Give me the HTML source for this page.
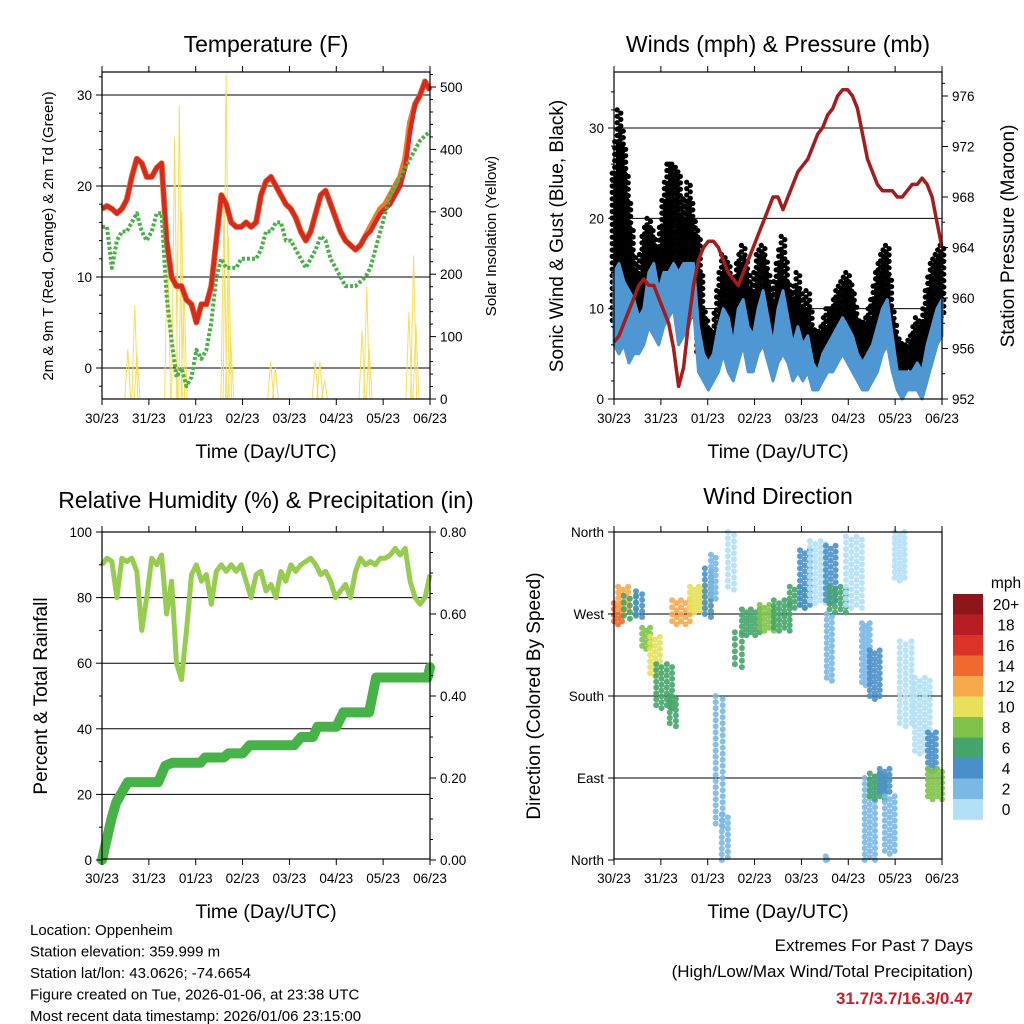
<!DOCTYPE html>
<html><head><meta charset="utf-8"><style>
body{margin:0;background:#fff}
svg{display:block;font-family:"Liberation Sans",sans-serif}
</style></head><body>
<svg id="fig" width="1024" height="1024" viewBox="0 0 1024 1024" xmlns="http://www.w3.org/2000/svg">
<rect width="1024" height="1024" fill="#fff"/>
<g id="layer"></g>
</svg>
<script>
const xTicks=["30/23","31/23","01/23","02/23","03/23","04/23","05/23","06/23"];
const tempRed=[17.5,17.8,17.5,17,17.5,18.5,21,23,22.5,21,21,22,22.5,14,10,9,9,7.5,7,5,7,7,9,14,19,18,16,15.5,15.5,16,15.5,16,19,20.5,21,20,19,18,17.5,16.5,15,14,15,17,19,19.5,18,16.5,15,14,13.5,13,13.5,14.5,15,16,17,17.5,18,19,20,22,26,29,30,31.5,30.5];
const tempOrange=[17.5,17.8,17.5,17,17.5,18.5,21,23,22.5,21,21,22,22.5,14,10,9,9,7.5,7,5,7,7,9,14,19,18,16,15.5,15.5,16,15.5,16,19,20.5,21,20,19,18,17.5,16.5,15,14,15,17,19,19.5,18,16.5,15,14,13.5,13,13.5,14.5,15.5,16.5,17.5,18,19,20,21,23,27,29,30,31.5,30.5];
const dewGreen=[15.5,15.5,11,14,15,15,16,17,15,14,15,17,17,8,3,-1,0,-2,-1,2,1,2,5,10,12,11,11,11,12,12,12,12,13,15,15,16,16,14,14,13,12,11,12,13,14.5,14,12,11,10,9,9,9,9.5,10,11,13,15,17,19,20,21,22,23,24,25,25.5,26];
const solarT=[0.55,0.7,0.75,1.4,1.55,1.65,1.7,1.75,2.6,2.65,2.7,2.75,3.6,3.7,4.55,4.65,4.75,5.55,5.65,5.7,6.55,6.65,6.7];
const solarV=[80,150,70,260,420,470,300,180,300,520,260,90,60,50,60,60,30,110,180,80,140,230,120];
const rh=[90,92,91,80,92,91,92,88,70,80,92,90,93,75,85,60,55,70,87,90,85,87,78,88,90,88,90,88,90,85,80,87,88,82,84,80,88,85,90,88,90,91,92,90,87,88,85,80,82,84,80,88,92,90,91,90,92,92,93,95,93,95,85,80,78,80,87];
const precipT=[0,0.1,0.2,0.3,0.45,0.55,0.9,1.2,1.35,1.5,2.1,2.2,2.6,2.7,3.0,3.15,4.1,4.25,4.5,4.6,5.0,5.15,5.7,5.85,6.95,7.0];
const precipV=[0,0.05,0.1,0.14,0.17,0.19,0.19,0.19,0.23,0.237,0.237,0.25,0.25,0.26,0.26,0.28,0.28,0.3,0.3,0.325,0.325,0.36,0.36,0.445,0.445,0.47];
const pressure=[956.5,957,958,959,960,961,961.5,961,961,960,959,958,956,953,954.5,958,961,963,964,964.5,964.5,964,963,962,961.5,961,962,963,964,965,966,967,968,968,967,968,969,970,970.5,971,972,973,973.5,974.5,975,976,976.5,976.5,976,975,973,971,970,969,968.5,968.5,968.5,968,968,968.5,969,969,969.5,969,968,966,964];
const windLo=[6,5,6,4,5,5,6,8,7,6,8,9,10,6,7,8,10,3,2,1,2,3,5,3,2,4,6,3,3,5,6,4,2,4,5,4,2,3,2,3,1,1,2,3,3,4,5,4,3,2,1,1,2,3,5,6,3,1,0,1,1,1,0,2,4,6,7];
const windHi=[14,15,13,12,11,9,10,14,15,12,14,14,15,14,15,15,15,8,5,4,5,8,10,9,6,10,11,8,7,10,12,9,6,10,12,9,6,8,6,7,4,3,5,6,7,8,9,8,7,5,4,5,6,8,10,11,7,3,3,3,3,4,3,6,8,10,11];
const gustHi=[25,32,28,22,16,14,18,20,18,16,22,26,26,25,20,24,20,18,10,8,7,12,16,15,12,15,17,14,12,16,17,14,11,15,18,13,11,14,10,12,8,7,8,10,10,12,13,14,12,9,8,9,11,14,16,17,10,7,6,6,7,9,8,12,15,16,17];
const dirT0=[0,0.09,0.21,0.47,0.6,0.77,0.9,1.19,1.24,1.62,1.94,2.07,2.17,2.3,2.43,2.58,2.73,3.11,3.41,3.75,3.97,4.18,4.52,4.6,4.54,4.95,5.29,5.35,5.46,5.46,5.67,5.78,5.99,6.1,6.42,6.7,6.7,4.52];
const dirT1=[0.17,0.3,0.47,0.6,0.77,0.98,1.24,1.32,1.62,2.0,2.07,2.17,2.32,2.43,2.56,2.73,3.11,3.41,3.75,4.07,4.18,4.52,4.73,4.95,4.65,5.29,5.46,5.57,5.67,5.78,5.88,5.99,6.2,6.35,6.74,6.87,7.0,4.55];
const dirLo=[262,275,268,270,235,205,170,150,262,275,270,290,40,0,300,215,250,255,255,280,280,285,285,275,200,280,195,0,180,70,75,10,310,150,120,100,70,0];
const dirHi=[282,300,290,295,255,245,215,180,285,300,320,335,180,50,360,250,275,280,285,300,340,350,345,300,270,355,260,90,230,95,100,70,360,240,200,140,100,4];
const dirSpd=[15,12,7,4,9,10,7,6,12,11,4,3,3,3,1,6,7,9,7,6,4,1,4,7,3,1,2,2,4,7,4,2,0,1,1,4,8,2];
const cbLabels=["20+","18","16","14","12","10","8","6","4","2","0"];
const cbColors=["#8e1519","#b81d24","#dc3327","#f06a2d","#f7a84a","#e6e05a","#80c34a","#45a56a","#4a90c8","#7ab8e6","#b3e0f7"];

const NS="http://www.w3.org/2000/svg";
const L=document.getElementById('layer');
function mk(tag,at,parent){const e=document.createElementNS(NS,tag);for(const k in at)e.setAttribute(k,at[k]);(parent||L).appendChild(e);return e;}
function txt(s,x,y,size,anchor,extra){const e=mk('text',Object.assign({x:x,y:y,'font-size':size,'text-anchor':anchor||'middle',fill:'#000'},extra||{}));e.textContent=s;return e;}
const W=328,H=327;
function panel(px,py,name){
  const g=mk('g',{});
  
  
  return g;
}
function xs(px,t){return px+t*W/7;}
function lin(v,v0,v1,y0,y1){return y0+(v-v0)*(y1-y0)/(v1-v0);}
function frame(px,py,g,name){
  const r=mk('rect',{x:px,y:py,width:W,height:H,fill:'none',stroke:'#000','stroke-width':1.2},g);
  
  
  for(let i=0;i<8;i++){const x=px+i*W/7;
    mk('line',{x1:x,y1:py+H,x2:x,y2:py+H+6,stroke:'#000'},g);
    mk('line',{x1:x,y1:py,x2:x,y2:py-6,stroke:'#000'},g);
    const t=txt(xTicks[i],x,py+H+24,13.5,'middle');
    
    
  }
  const xt=txt('Time (Day/UTC)',px+W/2,py+H+59,19.5);
  
  
}
function grid(px,g,ys){ys.forEach(y=>mk('line',{x1:px,y1:y,x2:px+W,y2:y,stroke:'#000','stroke-width':1},g));}
function yticksL(px,g,vals,fn,fmt,minor){vals.forEach(v=>{const y=fn(v);mk('line',{x1:px,y1:y,x2:px-6,y2:y,stroke:'#000'},g);const t=txt(fmt(v),px-10,y+5,13.5,'end');});
  (minor||[]).forEach(v=>{const y=fn(v);mk('line',{x1:px,y1:y,x2:px-3,y2:y,stroke:'#000'},g);});}
function yticksR(px,g,vals,fn,fmt,minor){vals.forEach(v=>{const y=fn(v);mk('line',{x1:px+W,y1:y,x2:px+W+6,y2:y,stroke:'#000'},g);const t=txt(fmt(v),px+W+10,y+5,13.5,'start');});
  (minor||[]).forEach(v=>{const y=fn(v);mk('line',{x1:px+W,y1:y,x2:px+W+3,y2:y,stroke:'#000'},g);});}
function poly(arr,xf,yf){return arr.map((v,i)=>xf(i).toFixed(1)+','+yf(v).toFixed(1)).join(' ');}
function title(s,x,y,g){const t=txt(s,x,y,23,'middle');}
function ytitle(s,x,y,size,name){const t=txt(s,0,0,size,'middle',{transform:`translate(${x},${y}) rotate(-90)`});}
const N=tempRed.length;
const ti=i=>i*7/(N-1);

// Panel 1: Temperature
(function(){const px=102,py=72,g=panel(px,py,'temperature-panel');
 const yT=v=>lin(v,0,30,368,95), yS=v=>lin(v,0,500,399,87);
 grid(px,g,[0,10,20,30].map(yT));
 solarT.forEach((t,i)=>{const x=xs(px,t);const p=mk('polyline',{points:`${x-3},${yS(0)} ${x},${yS(solarV[i])} ${x+3},${yS(0)}`,fill:'none',stroke:'#f6de5a','stroke-width':1},g);
  });
 const xf=i=>xs(px,ti(i));
 let p=mk('polyline',{points:poly(tempOrange,xf,yT),fill:'none',stroke:'#f07a2c','stroke-width':6,'stroke-linejoin':'round'},g);
 
 p=mk('polyline',{points:poly(tempRed,xf,yT),fill:'none',stroke:'#d42a22','stroke-width':4.5,'stroke-linejoin':'round'},g);
 
 p=mk('polyline',{points:poly(dewGreen,xf,yT),fill:'none',stroke:'#4cb04a','stroke-width':4,'stroke-dasharray':'3 2','stroke-linejoin':'round'},g);
 
 frame(px,py,g,'temperature');
 yticksL(px,g,[0,10,20,30],yT,v=>v,[-2,2,4,6,8,12,14,16,18,22,24,26,28,32]);
 yticksR(px,g,[0,100,200,300,400,500],yS,v=>v,[20,40,60,80,120,140,160,180,220,240,260,280,320,340,360,380,420,440,460,480,520]);
 title('Temperature (F)',266,52);
 ytitle('2m & 9m T (Red, Orange) & 2m Td (Green)',53,236,15,'y-axis-title');
 ytitle('Solar Insolation (Yellow)',496,236,15,'y2-axis-title');
})();

// Panel 2: Winds
(function(){const px=614,py=72,g=panel(px,py,'winds-panel');
 const yW=v=>lin(v,0,30,399,128), yP=v=>lin(v,952,976,399,96);
 grid(px,g,[10,20,30].map(yW));
 const xf=i=>xs(px,ti(i));
 // gust dots between wind top and gust top
 for(let i=0;i<N;i++){
   for(let h=0;h<2;h++){
     if(h===1&&i===N-1)continue;
     const f=h*0.5;
     const top=gustHi[i]+(h?(gustHi[i+1]-gustHi[i])*f:0);
     const bot=windLo[i]+(h?(windLo[i+1]-windLo[i])*f:0)+2;
     const x=xs(px,ti(i+f));
     const y0=yW(top),y1=yW(bot);
     for(let y=y0;y<=y1;y+=3.2){
       const c=mk('circle',{cx:(x+((Math.round((y-y0)/3.2))%2?1.8:-1.8)).toFixed(1),cy:y.toFixed(1),r:2.6,fill:'#000'},g);
       
       
     }
   }
 }
 const pts=windHi.map((v,i)=>xf(i).toFixed(1)+','+yW(v).toFixed(1)).concat(windLo.map((v,i)=>[i,v]).reverse().map(([i,v])=>xf(i).toFixed(1)+','+yW(v).toFixed(1))).join(' ');
 const wb=mk('polygon',{points:pts,fill:'#4f97d2',stroke:'#4f97d2','stroke-width':3,'stroke-linejoin':'round'},g);
 
 const p=mk('polyline',{points:poly(pressure,xf,yP),fill:'none',stroke:'#a51c1c','stroke-width':3.5,'stroke-linejoin':'round'},g);
 
 frame(px,py,g,'winds');
 yticksL(px,g,[0,10,20,30],yW,v=>v,[2,4,6,8,12,14,16,18,22,24,26,28,32,34]);
 yticksR(px,g,[952,956,960,964,968,972,976],yP,v=>v,[954,958,962,966,970,974,977]);
 title('Winds (mph) & Pressure (mb)',778,52);
 ytitle('Sonic Wind & Gust (Blue, Black)',563,236,19,'y-axis-title');
 ytitle('Station Pressure (Maroon)',1014,236,19,'y2-axis-title');
})();

// Panel 3: RH & Precip
(function(){const px=102,py=532,g=panel(px,py,'humidity-panel');
 const yR=v=>lin(v,0,100,860,532), yQ=v=>lin(v,0,0.8,860,532);
 grid(px,g,[20,40,60,80].map(yR));
 const xf=i=>xs(px,ti(i));
 let p=mk('polyline',{points:poly(rh,xf,yR),fill:'none',stroke:'#96cc50','stroke-width':5,'stroke-linejoin':'round'},g);
 
 p=mk('polyline',{points:precipV.map((v,i)=>xs(px,precipT[i]).toFixed(1)+','+yQ(v).toFixed(1)).join(' '),fill:'none',stroke:'#47b247','stroke-width':10,'stroke-linejoin':'round','stroke-linecap':'round'},g);
 
 frame(px,py,g,'humidity');
 yticksL(px,g,[0,20,40,60,80,100],yR,v=>v,[10,30,50,70,90]);
 yticksR(px,g,[0,0.2,0.4,0.6,0.8],yQ,v=>v.toFixed(2),[0.05,0.1,0.15,0.25,0.3,0.35,0.45,0.5,0.55,0.65,0.7,0.75]);
 title('Relative Humidity (%) & Precipitation (in)',266,508);
 ytitle('Percent & Total Rainfall',47,696,19,'y-axis-title');
})();

// Panel 4: Wind direction
(function(){const px=614,py=532,g=panel(px,py,'wind-direction-panel');
 const yD=v=>lin(v,0,360,860,532);
 grid(px,g,[90,180,270].map(yD));
 const colFor=s=>cbColors[10-Math.min(10,Math.floor(s/2))];
 dirT0.forEach((t0,k)=>{const x0=xs(px,t0),x1=xs(px,dirT1[k]);const y0=yD(dirHi[k]),y1=yD(dirLo[k]);
  const nx=Math.max(1,Math.round((x1-x0)/5)),ny=Math.max(1,Math.round((y1-y0)/6));
  for(let a=0;a<=nx;a++)for(let b=0;b<=ny;b++){
   const x=x0+(x1-x0)*a/nx, y=y0+(y1-y0)*b/ny+((a%2)?3:0);
   if(y>860||y<532)continue;
   const c=mk('circle',{cx:x.toFixed(1),cy:y.toFixed(1),r:3,fill:colFor(dirSpd[k]),'fill-opacity':0.9},g);
   }
 });
 frame(px,py,g,'direction');
 const dl=["North","East","South","West","North"];
 [0,90,180,270,360].forEach((v,i)=>{const y=yD(v);mk('line',{x1:px,y1:y,x2:px-6,y2:y,stroke:'#000'},g);const t=txt(dl[i],px-10,y+5,13.5,'end');});
 title('Wind Direction',778,504);
 ytitle('Direction (Colored By Speed)',540,696,19,'y-axis-title');
 const cb=mk('g',{});
 
 
 cbColors.forEach((c,i)=>{const r=mk('rect',{x:953,y:594+i*20.5,width:30,height:20.8,fill:c},cb);
  const t=txt(cbLabels[i],1006,594+i*20.5+16,15.5,'middle');});
 const m=txt('mph',1006,588,15.5,'middle');
})();

const info=["Location: Oppenheim","Station elevation: 359.999 m","Station lat/lon: 43.0626; -74.6654","Figure created on Tue, 2026-01-06, at 23:38 UTC","Most recent data timestamp: 2026/01/06 23:15:00"];
info.forEach((s,i)=>{const t=txt(s,30,935+i*21.5,15,'start');});
let t=txt('Extremes For Past 7 Days',973,951,17,'end');
t=txt('(High/Low/Max Wind/Total Precipitation)',973,977,17,'end');
t=txt('31.7/3.7/16.3/0.47',973,1004,17,'end',{fill:'#c8202a','font-weight':'bold'});
</script>
</body></html>
